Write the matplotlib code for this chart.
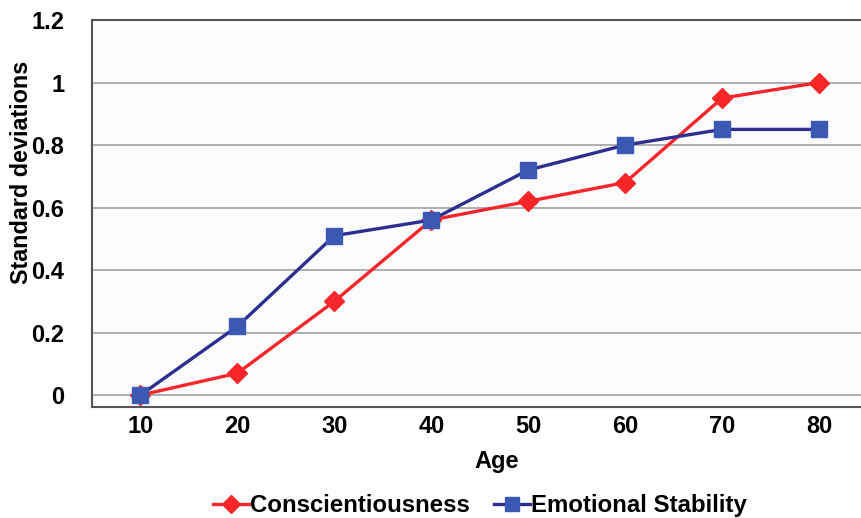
import numpy as np
import matplotlib.pyplot as plt

plt.rcParams['font.family'] = ['Liberation Sans', 'DejaVu Sans']
plt.rcParams['font.weight'] = 'bold'

# Age groups and standardized change per trait
ages = ['10', '20', '30', '40', '50', '60', '70', '80']
conscientiousness = [0.0, 0.07, 0.30, 0.56, 0.62, 0.68, 0.95, 1.00]
emotional_stability = [0.0, 0.22, 0.51, 0.56, 0.72, 0.80, 0.85, 0.85]
y_ticks = [0, 0.2, 0.4, 0.6, 0.8, 1.0, 1.2]
y_tick_labels = ['0', '0.2', '0.4', '0.6', '0.8', '1', '1.2']

fig = plt.figure(figsize=(8.62, 5.18), dpi=100)
# plot area runs slightly past the right edge of the figure
ax = fig.add_axes([0.1067, 0.2143, 0.8997, 0.7471])
ax.set_facecolor('#fcfcfc')

x = np.arange(len(ages))
ax.plot(x, conscientiousness, color='#f7262a', lw=2.4, marker='D', ms=10.5,
        mfc='#f7262a', mec='#f7262a', label='Conscientiousness', zorder=3)
ax.plot(x, emotional_stability, color='#2c2f8f', lw=2.4, marker='s', ms=11.5,
        mfc='#3a58b4', mec='#3a58b4', label='Emotional Stability', zorder=4)

ax.set_xlim(-0.5, 7.5)
ax.set_ylim(-0.038, 1.2)
ax.set_xticks(x)
ax.set_xticklabels(ages, fontweight='bold')
ax.set_yticks(y_ticks)
ax.set_yticklabels(y_tick_labels, fontweight='bold')
ax.tick_params(axis='both', length=0, labelsize=17)
ax.tick_params(axis='x', pad=6)
ax.tick_params(axis='y', pad=20)

ax.grid(axis='y', color='#a8a8a8', lw=1.3)
ax.set_axisbelow(True)
for side in ['left', 'bottom', 'top']:
    ax.spines[side].set_color('#555555')
    ax.spines[side].set_linewidth(1.5)
ax.spines['right'].set_visible(False)

ax.set_xlabel('Age', fontsize=17, fontweight='bold')
ax.xaxis.set_label_coords(0.522, -0.11)
ax.set_ylabel('Standard deviations', fontsize=16.8, fontweight='bold')
ax.yaxis.set_label_coords(-0.076, 0.607)

ax.legend(loc='center', bbox_to_anchor=(0.5, -0.255), ncol=2, frameon=False,
          prop={'weight': 'bold', 'size': 17.3},
          handlelength=1.5, handletextpad=0.05, columnspacing=1.0,
          markerscale=0.9)

plt.savefig('out.png', dpi=100)
